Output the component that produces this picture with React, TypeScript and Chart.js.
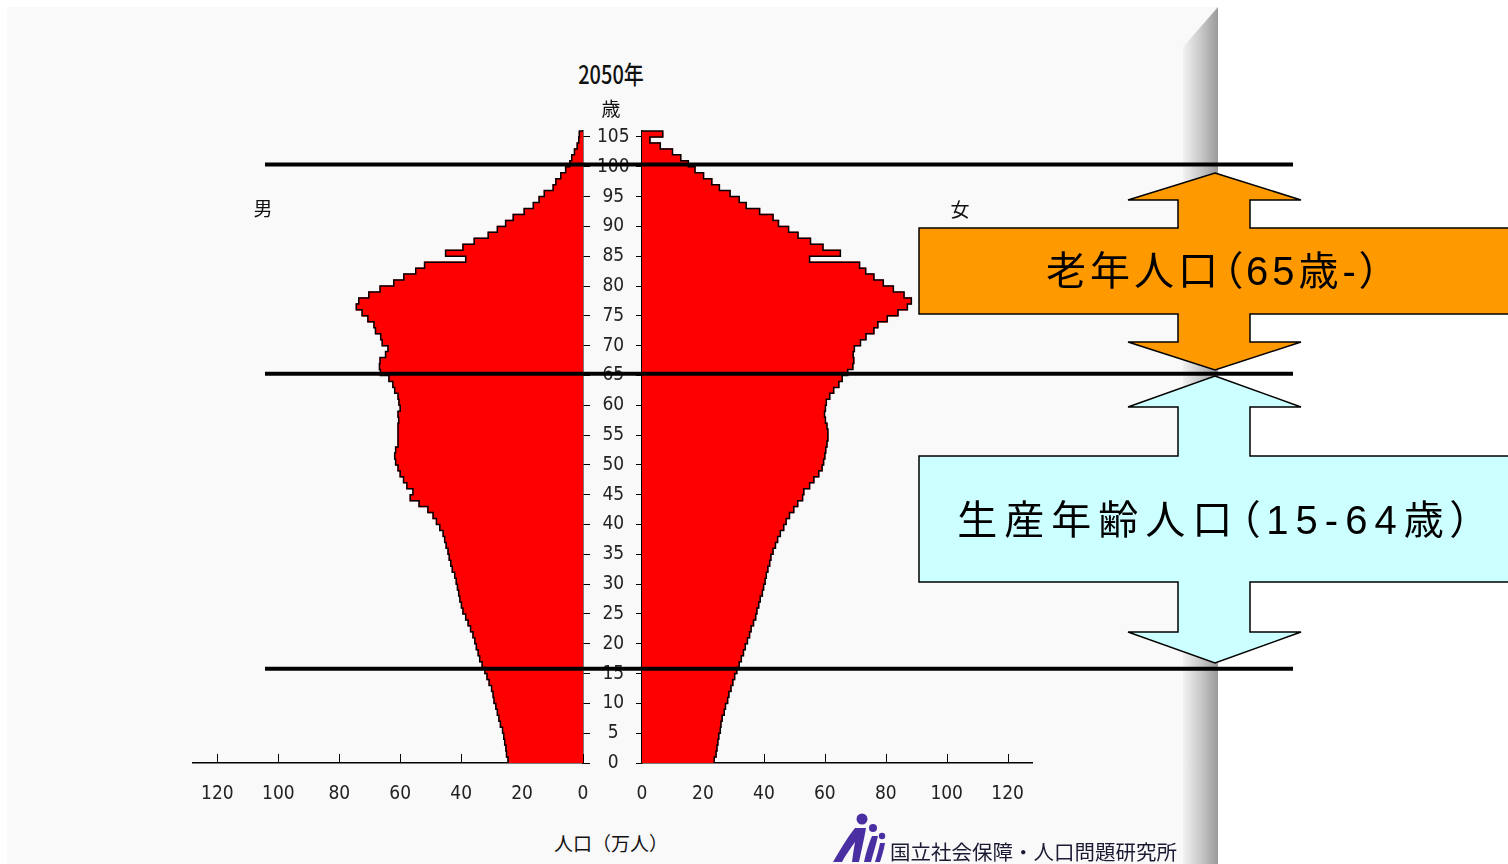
import React, { useEffect, useRef, useState } from 'react';
import { Chart, registerables } from 'chart.js';

Chart.register(...registerables);

// ---- data (population in 10k persons, by single year of age, 2050 projection) ----
const AGES: number[] = Array.from({ length: 106 }, (_, i) => i); // 0 .. 105+

const MALE: number[] = [
  24.6, 25.1, 25.3, 25.7, 26.0, 26.4, 27.1, 27.6, 28.1, 28.6,
  29.2, 29.5, 30.0, 30.8, 31.5, 32.2, 33.1, 33.9, 34.4, 35.0,
  35.5, 36.1, 36.9, 37.7, 38.5, 39.4, 39.9, 40.4, 40.8, 41.2,
  41.6, 42.1, 42.9, 43.4, 43.9, 44.3, 44.9, 45.4, 45.9, 47.0,
  48.1, 49.2, 50.9, 53.8, 56.7, 55.8, 57.8, 58.9, 60.0, 60.7,
  61.5, 61.8, 61.5, 60.7, 60.7, 60.7, 60.7, 60.5, 60.7, 60.0,
  60.4, 60.7, 61.8, 62.4, 63.7, 66.5, 66.8, 66.6, 64.8, 64.0,
  65.9, 66.4, 68.1, 68.6, 70.6, 72.5, 74.4, 73.6, 70.3, 66.6,
  62.1, 58.8, 54.9, 52.0, 38.5, 45.1, 39.4, 35.7, 31.1, 28.1,
  25.4, 22.9, 19.3, 16.3, 14.4, 12.7, 9.8, 8.9, 7.3, 5.7,
  4.3, 3.7, 2.8, 1.9, 1.4, 1.2,
];

const FEMALE: number[] = [
  23.7, 24.3, 24.6, 24.9, 25.2, 25.7, 25.9, 26.3, 27.0, 27.4,
  28.1, 28.5, 29.2, 29.8, 30.4, 31.1, 31.9, 32.6, 33.3, 33.9,
  34.6, 35.3, 35.8, 36.6, 37.3, 37.7, 38.3, 38.8, 39.5, 39.9,
  40.4, 40.8, 41.3, 41.9, 42.3, 43.0, 43.8, 44.5, 45.4, 46.5,
  47.3, 48.4, 49.8, 51.1, 52.7, 53.1, 55.0, 56.4, 58.0, 59.1,
  59.6, 60.0, 60.3, 60.7, 61.0, 61.0, 60.7, 60.2, 59.9, 60.2,
  60.5, 61.6, 62.9, 64.6, 65.7, 67.5, 69.2, 69.5, 69.3, 69.7,
  71.7, 73.5, 76.1, 77.4, 80.5, 84.0, 87.1, 88.4, 86.0, 82.5,
  79.2, 76.1, 73.4, 71.4, 55.0, 65.1, 59.4, 55.3, 51.2, 48.1,
  44.8, 43.0, 38.6, 34.2, 31.9, 28.9, 25.4, 22.9, 20.2, 17.4,
  15.2, 12.7, 10.0, 6.0, 2.6, 6.8,
];

const X_TICKS: number[] = [0, 20, 40, 60, 80, 100, 120];
const Y_TICKS: number[] = [0, 5, 10, 15, 20, 25, 30, 35, 40, 45, 50, 55, 60, 65, 70, 75, 80, 85, 90, 95, 100, 105];
const BOUNDARY_AGES: number[] = [100.4, 65.3, 15.8];

const X_MAX = 128;
const Y_MAX = 106;

const TICK_FONT = {
  family: "'Liberation Sans Narrow', 'DejaVu Sans Condensed', 'Noto Sans', sans-serif",
  size: 19,
};
const CJK = "'Noto Sans CJK JP', 'Noto Sans CJK SC', sans-serif";

const CANVAS_TOP = 100;
const CANVAS_H = 713;
const LEFT_CANVAS = { left: 180, width: 462 };
const RIGHT_CANVAS = { left: 583, width: 469 };

const innerTicks = {
  id: 'innerTicks',
  beforeDatasetsDraw(chart: any) {
    const s = chart.scales.x;
    const ctx = chart.ctx;
    ctx.save();
    ctx.strokeStyle = '#000';
    ctx.lineWidth = 1;
    X_TICKS.forEach((v) => {
      const px = Math.round(s.getPixelForValue(v)) + 0.5;
      ctx.beginPath();
      ctx.moveTo(px, s.top);
      ctx.lineTo(px, s.top - 9);
      ctx.stroke();
    });
    ctx.restore();
  },
};

function buildConfig(values: number[], side: 'left' | 'right'): any {
  const isLeft = side === 'left';
  const bars = AGES.map((a, i) => ({ x: values[i], y: a + 0.5 }));
  const outline = [
    ...AGES.map((a, i) => ({ x: values[i], y: a })),
    { x: values[values.length - 1], y: Y_MAX },
    { x: 0, y: Y_MAX },
  ];
  return {
    type: 'bar',
    data: {
      datasets: [
        {
          type: 'bar',
          indexAxis: 'y',
          data: bars,
          backgroundColor: '#ff0000',
          borderWidth: 0,
          barPercentage: 1,
          categoryPercentage: 1,
          inflateAmount: 0.6,
          order: 2,
        },
        {
          type: 'line',
          data: outline,
          borderColor: '#000',
          borderWidth: 1.5,
          pointRadius: 0,
          stepped: 'after',
          fill: false,
          clip: false,
          order: 1,
        },
      ],
    },
    options: {
      responsive: false,
      maintainAspectRatio: false,
      animation: false,
      devicePixelRatio: 1,
      events: [],
      layout: {
        padding: isLeft ? { top: 31, left: 13, right: 0, bottom: 0 } : { top: 31, left: 0, right: 20, bottom: 0 },
      },
      plugins: { legend: { display: false }, tooltip: { enabled: false }, title: { display: false } },
      scales: {
        x: {
          type: 'linear',
          reverse: isLeft,
          min: 0,
          max: X_MAX,
          offset: false,
          afterBuildTicks: (s: any) => {
            s.ticks = X_TICKS.map((v) => ({ value: v }));
          },
          afterFit: (s: any) => {
            s.height = 50;
          },
          grid: { display: true, drawOnChartArea: false, drawTicks: false, offset: false },
          border: { display: true, color: '#000', width: 1.5 },
          ticks: { padding: 20, color: '#222', font: TICK_FONT, autoSkip: false, maxRotation: 0 },
        },
        y: {
          type: 'linear',
          position: isLeft ? 'right' : 'left',
          min: 0,
          max: Y_MAX,
          offset: false,
          afterBuildTicks: (s: any) => {
            s.ticks = Y_TICKS.map((v) => ({ value: v }));
          },
          afterFit: (s: any) => {
            s.width = 59;
          },
          grid: {
            display: true,
            offset: false,
            drawOnChartArea: false,
            drawTicks: true,
            tickLength: isLeft ? 7 : 6,
            color: '#000',
            lineWidth: 1,
          },
          border: { display: true, color: '#000', width: 1.5 },
          ticks: {
            display: isLeft,
            crossAlign: 'center',
            padding: 7,
            color: '#222',
            font: TICK_FONT,
            autoSkip: false,
          },
        },
      },
    },
    plugins: [innerTicks],
  };
}

const Label: React.FC<{ x: number; y: number; size: number; text: string; style?: React.CSSProperties }> = ({
  x,
  y,
  size,
  text,
  style,
}) => (
  <div
    style={{
      position: 'absolute',
      left: x,
      top: y,
      transform: 'translate(-50%, -50%)',
      fontFamily: CJK,
      fontSize: size,
      lineHeight: 1,
      color: '#111',
      whiteSpace: 'nowrap',
      ...style,
    }}
  >
    {text}
  </div>
);

export default function App() {
  const leftRef = useRef<HTMLCanvasElement | null>(null);
  const rightRef = useRef<HTMLCanvasElement | null>(null);
  const [lineYs, setLineYs] = useState<number[]>([]);

  useEffect(() => {
    if (!leftRef.current || !rightRef.current) return;
    const left = new Chart(leftRef.current, buildConfig(MALE, 'left'));
    const right = new Chart(rightRef.current, buildConfig(FEMALE, 'right'));
    const ys = BOUNDARY_AGES.map((a) => CANVAS_TOP + left.scales.y.getPixelForValue(a));
    setLineYs(ys);
    return () => {
      left.destroy();
      right.destroy();
    };
  }, []);

  const orange =
    '1215,173 1301,200 1250,200 1250,228 1520,228 1520,314 1250,314 1250,342 1301,342 1215,370 1128,342 1178,342 1178,314 919,314 919,228 1178,228 1178,200 1128,200';
  const cyan =
    '1215,376 1301,407 1250,407 1250,456 1520,456 1520,582 1250,582 1250,632 1301,632 1215,663 1128,632 1178,632 1178,582 919,582 919,456 1178,456 1178,407 1128,407';

  const boxText: React.CSSProperties = {
    fontFamily: "'Liberation Sans', 'Noto Sans CJK JP', sans-serif",
    fontFeatureSettings: '"palt"',
    color: '#000',
  };

  return (
    <div
      style={{
        position: 'fixed',
        left: 0,
        top: 0,
        width: 1508,
        height: 864,
        overflow: 'hidden',
        background: '#ffffff',
      }}
    >
      {/* slide panel */}
      <svg width={1508} height={864} style={{ position: 'absolute', left: 0, top: 0 }}>
        <defs>
          <linearGradient id="band" x1="1183" y1="0" x2="1218" y2="0" gradientUnits="userSpaceOnUse">
            <stop offset="0" stopColor="#f2f2f2" />
            <stop offset="0.5" stopColor="#c9c9c9" />
            <stop offset="1" stopColor="#9a9a9a" />
          </linearGradient>
        </defs>
        <rect x={7} y={7} width={1211} height={870} fill="#f9f9f9" />
        <polygon points="1183,47 1218,7 1218,870 1183,870" fill="url(#band)" />
      </svg>

      <canvas
        ref={leftRef}
        width={LEFT_CANVAS.width}
        height={CANVAS_H}
        style={{ position: 'absolute', left: LEFT_CANVAS.left, top: CANVAS_TOP, width: LEFT_CANVAS.width, height: CANVAS_H }}
      />
      <canvas
        ref={rightRef}
        width={RIGHT_CANVAS.width}
        height={CANVAS_H}
        style={{ position: 'absolute', left: RIGHT_CANVAS.left, top: CANVAS_TOP, width: RIGHT_CANVAS.width, height: CANVAS_H }}
      />

      {/* texts of the chart */}
      <Label x={611} y={73} size={25} text="2050年" style={{ transform: 'translate(-50%, -50%) scaleX(0.8)', fontWeight: 500 }} />
      <Label x={611} y={107} size={19} text="歳" />
      <Label x={263} y={207} size={19} text="男" />
      <Label x={960} y={208} size={19} text="女" />
      <Label x={611} y={842} size={19} text="人口（万人）" />

      {/* callouts */}
      <svg width={1508} height={864} style={{ position: 'absolute', left: 0, top: 0 }}>
        <polygon points={orange} fill="#ff9900" stroke="#000" strokeWidth={1.5} />
        <polygon points={cyan} fill="#ccffff" stroke="#000" strokeWidth={1.5} />
        {lineYs.map((y, i) => (
          <line key={i} x1={265} x2={1293} y1={y} y2={y} stroke="#000" strokeWidth={4} />
        ))}
        {/* logo figures */}
        <g fill="#4a2fa3">
          <circle cx={862} cy={819} r={5.5} />
          <path d="M833,862 C840,850 847,838 855,828 L866,828 C864,840 861,852 859,862 L852,862 C853,854 854,848 855,842 C850,849 845,856 842,862 Z" />
          <circle cx={873} cy={828} r={4} />
          <path d="M864,862 C866,852 869,843 872,836 L878,836 C876,845 873,854 871,862 Z" />
          <circle cx={882} cy={836} r={3.2} />
          <path d="M875,862 C877,855 879,849 880,843 L885,843 C884,849 882,856 880,862 Z" />
        </g>
      </svg>

      <Label
        x={1213}
        y={271}
        size={40}
        text="老年人口（65歳-）"
        style={{ ...boxText, letterSpacing: 4, paddingLeft: 4 }}
      />
      <Label
        x={1214}
        y={520}
        size={40}
        text="生産年齢人口（15-64歳）"
        style={{ ...boxText, letterSpacing: 7, paddingLeft: 7 }}
      />
      <div
        style={{
          position: 'absolute',
          left: 890,
          top: 851,
          transform: 'translateY(-50%)',
          fontFamily: CJK,
          fontSize: 20.5,
          lineHeight: 1,
          color: '#1a1a33',
          whiteSpace: 'nowrap',
        }}
      >
        国立社会保障・人口問題研究所
      </div>
    </div>
  );
}
